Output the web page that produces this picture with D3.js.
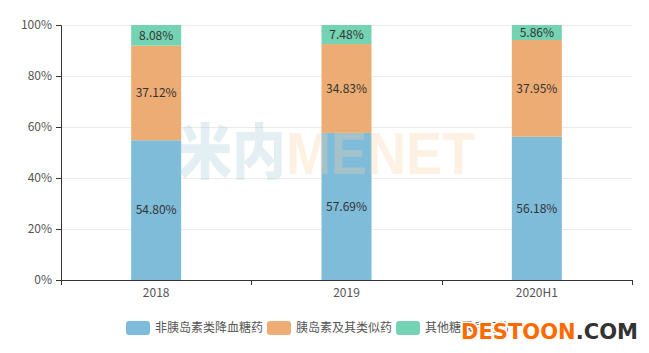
<!DOCTYPE html>
<html><head><meta charset="utf-8">
<script src="https://cdn.jsdelivr.net/npm/d3@7"></script>
<style>body{margin:0;background:#fff}svg{display:block;font-family:"Noto Sans CJK SC","Noto Sans",sans-serif}</style>
</head><body><svg id="c" width="649" height="353"></svg>
<script>
const categories = ["2018", "2019", "2020H1"];
const seriesNames = ["非胰岛素类降血糖药", "胰岛素及其类似药", "其他糖尿病用药"];
const nonInsulin = [54.80, 57.69, 56.18];
const insulin = [37.12, 34.83, 37.95];
const others = [8.08, 7.48, 5.86];
const yTicks = [0, 20, 40, 60, 80, 100];
const colors = ["#7ebcda", "#edac73", "#73d3b2"];

const svg = d3.select("#c");
const m = {l: 61, r: 632, t: 25, b: 280};
const x = d3.scaleBand().domain(categories).range([m.l, m.r]);
const y = d3.scaleLinear().domain([0, 100]).range([m.b, m.t]);
const barW = 50;

// grid
svg.append("g").selectAll("line").data(yTicks.filter(d => d > 0)).join("line")
  .attr("x1", m.l).attr("x2", m.r).attr("y1", d => y(d)).attr("y2", d => y(d))
  .attr("stroke", "#ebebeb").attr("stroke-width", 1).attr("shape-rendering", "crispEdges");

const seriesVals = [nonInsulin, insulin, others];
const rows = categories.map((c, i) => ({cat: c, s0: nonInsulin[i], s1: insulin[i], s2: others[i]}));
const stack = d3.stack().keys(["s0", "s1", "s2"])(rows);

const g = svg.append("g");
stack.forEach((layer, li) => {
  g.selectAll(null).data(layer).join("rect")
    .attr("x", d => x(d.data.cat) + x.bandwidth() / 2 - barW / 2)
    .attr("width", barW)
    .attr("y", d => y(Math.min(d[1], 100)))
    .attr("height", d => y(d[0]) - y(Math.min(d[1], 100)))
    .attr("fill", colors[li]);
  g.selectAll(null).data(layer).join("text")
    .attr("x", d => x(d.data.cat) + x.bandwidth() / 2)
    .attr("y", d => (y(d[0]) + y(Math.min(d[1], 100))) / 2)
    .attr("dy", "0.35em").attr("text-anchor", "middle")
    .attr("font-size", 12).attr("fill", "#333")
    .text((d, i) => seriesVals[li][i].toFixed(2) + "%");
});

// watermark
const wm = svg.append("text").attr("x", 178).attr("y", 174).attr("font-size", 60)
  .attr("font-weight", "bold").attr("font-family", "Liberation Sans, Arial, sans-serif").attr("opacity", 0.3)
  .attr("textLength", 297).attr("lengthAdjust", "spacingAndGlyphs");
wm.append("tspan").attr("fill", "#a9ccd8").attr("font-family", "Noto Sans CJK SC").attr("font-weight", "900").text("米内");
wm.append("tspan").attr("fill", "#fbd2a8").text("MENET");

// axes
const yAxis = d3.axisLeft(y).tickValues(yTicks).tickFormat(d => d + "%").tickSize(5).tickPadding(4);
const ya = svg.append("g").attr("transform", `translate(${m.l},0)`).call(yAxis);
ya.select(".domain").attr("stroke", "#333");
ya.selectAll(".tick line").attr("stroke", "#333");
ya.selectAll("text").attr("font-size", 12).attr("fill", "#555").attr("font-family", "Noto Sans CJK SC");

const xAxis = d3.axisBottom(x).tickSize(0).tickPadding(8);
const xa = svg.append("g").attr("transform", `translate(0,${m.b})`).call(xAxis);
xa.select(".domain").attr("stroke", "#333");
xa.selectAll("text").attr("font-size", 12).attr("fill", "#555").attr("font-family", "Noto Sans CJK SC");
const bounds = categories.map(c => x(c)).concat([m.r]);
xa.selectAll(".bt").data(bounds).join("line").attr("class", "bt")
  .attr("x1", d => Math.round(d) + 0.5).attr("x2", d => Math.round(d) + 0.5).attr("y1", 0).attr("y2", 5).attr("stroke", "#333");

// legend
const legX = [126, 267, 396];
const leg = svg.append("g");
seriesNames.forEach((n, i) => {
  leg.append("rect").attr("x", legX[i]).attr("y", 321).attr("width", 24).attr("height", 14).attr("rx", 3)
    .attr("fill", colors[i]);
  leg.append("text").attr("x", legX[i] + 29).attr("y", 328).attr("dy", "0.35em")
    .attr("font-size", 12).attr("fill", "#555").text(n);
});

// site watermark
const dw = svg.append("text").attr("x", 461).attr("y", 339).attr("font-size", 21).attr("font-weight", "bold")
  .attr("font-family", "DejaVu Sans, sans-serif")
  .attr("textLength", 177).attr("lengthAdjust", "spacingAndGlyphs")
  .attr("stroke", "#fff").attr("stroke-width", 3).attr("paint-order", "stroke");
dw.append("tspan").attr("fill", "#ff6a00").text("DESTOON");
dw.append("tspan").attr("fill", "#333").text(".COM");
</script></body></html>
